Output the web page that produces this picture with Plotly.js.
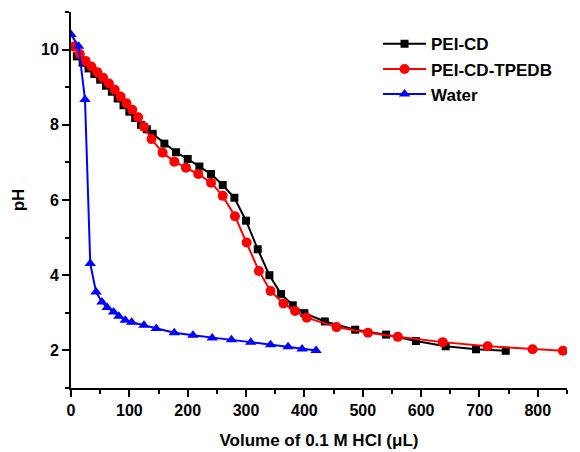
<!DOCTYPE html>
<html>
<head>
<meta charset="utf-8">
<script src="https://cdn.plot.ly/plotly-3.0.1.min.js"></script>
<style>html,body{margin:0;padding:0;background:#fff}#chart{width:580px;height:452px}</style>
</head>
<body>
<div id="chart"></div>
<script>
// PEI-CD (black squares)
const peiCdX = [10,20,30,40,50,60,70,80,90,100,110,120,130,140,160,180,200,220,240,260,280,300,320,340,360,380,400,435,487,540,591,642,694,745];
const peiCdY = [9.82,9.65,9.5,9.35,9.2,9.04,8.88,8.7,8.52,8.35,8.18,8.0,7.88,7.76,7.5,7.27,7.09,6.89,6.69,6.4,6.06,5.45,4.69,4.0,3.5,3.2,2.99,2.77,2.55,2.42,2.25,2.11,2.03,1.99];
// PEI-CD-TPEDB (red circles)
const tpedbX = [5,15,25,35,45,55,65,75,85,95,105,115,125,138,157,177,197,218,240,260,281,301,322,342,364,384,404,455,509,560,637,714,791,843];
const tpedbY = [10.08,9.88,9.7,9.55,9.4,9.25,9.1,8.93,8.75,8.57,8.4,8.2,7.95,7.62,7.26,7.02,6.86,6.69,6.46,6.11,5.57,4.87,4.11,3.58,3.25,3.05,2.87,2.62,2.47,2.36,2.22,2.11,2.03,1.99];
// Water (blue triangles)
const waterX = [0,13,24,33,43,53,62,73,82,93,104,125,146,177,209,242,275,308,342,372,396,420];
const waterY = [10.4,10.09,8.67,4.31,3.55,3.29,3.14,3.02,2.91,2.8,2.75,2.67,2.58,2.47,2.4,2.33,2.28,2.22,2.15,2.1,2.04,2.0];

const seriesNames = ['PEI-CD','PEI-CD-TPEDB','Water'];
const xTitle = 'Volume of 0.1 M HCl (\u03bcL)';
const yTitle = 'pH';

const traces = [
  {x: peiCdX, y: peiCdY, name: seriesNames[0], mode: 'lines+markers',
   line: {color: '#000000', width: 2}, marker: {symbol: 'square', size: 8, color: '#000000'}},
  {x: tpedbX, y: tpedbY, name: seriesNames[1], mode: 'lines+markers',
   line: {color: '#ff0000', width: 2}, marker: {symbol: 'circle', size: 10, color: '#ff0000'}},
  {x: waterX, y: waterY, name: seriesNames[2], mode: 'lines+markers',
   line: {color: '#0000ff', width: 2}, marker: {symbol: 'triangle-up', size: 10, color: '#0000ff'}}
];

const fontFam = '"Liberation Sans", Arial, sans-serif';
const layout = {
  width: 580, height: 452,
  margin: {l: 71, r: 13, t: 12, b: 64},
  paper_bgcolor: '#ffffff', plot_bgcolor: '#ffffff',
  font: {family: fontFam, color: '#000', size: 16},
  showlegend: true,
  legend: {x: 0.619, y: 0.962, xanchor: 'left', yanchor: 'top', itemwidth: 43,
           font: {family: fontFam, size: 17, color: '#000', weight: 'bold'},
           bgcolor: 'rgba(0,0,0,0)', tracegroupgap: 0},
  xaxis: {
    range: [0, 850], showgrid: false, zeroline: false,
    showline: true, linecolor: '#000', linewidth: 2, mirror: false,
    ticks: 'outside', ticklen: 7, tickwidth: 2, tickcolor: '#000',
    tick0: 0, dtick: 100,
    minor: {dtick: 50, ticks: 'outside', ticklen: 4, tickwidth: 2, tickcolor: '#000'},
    tickfont: {family: fontFam, size: 16, color: '#000', weight: 'bold'},
    title: {text: xTitle, font: {family: fontFam, size: 17, color: '#000', weight: 'bold'}, standoff: 16}
  },
  yaxis: {
    range: [1, 11], showgrid: false, zeroline: false,
    showline: true, linecolor: '#000', linewidth: 2, mirror: false,
    ticks: 'outside', ticklen: 7, tickwidth: 2, tickcolor: '#000',
    tick0: 0, dtick: 2,
    minor: {dtick: 1, ticks: 'outside', ticklen: 4, tickwidth: 2, tickcolor: '#000'},
    tickfont: {family: fontFam, size: 16, color: '#000', weight: 'bold'},
    title: {text: yTitle, font: {family: fontFam, size: 17, color: '#000', weight: 'bold'}, standoff: 12}
  }
};

Plotly.newPlot('chart', traces, layout, {displayModeBar: false, staticPlot: true});
</script>
</body>
</html>
